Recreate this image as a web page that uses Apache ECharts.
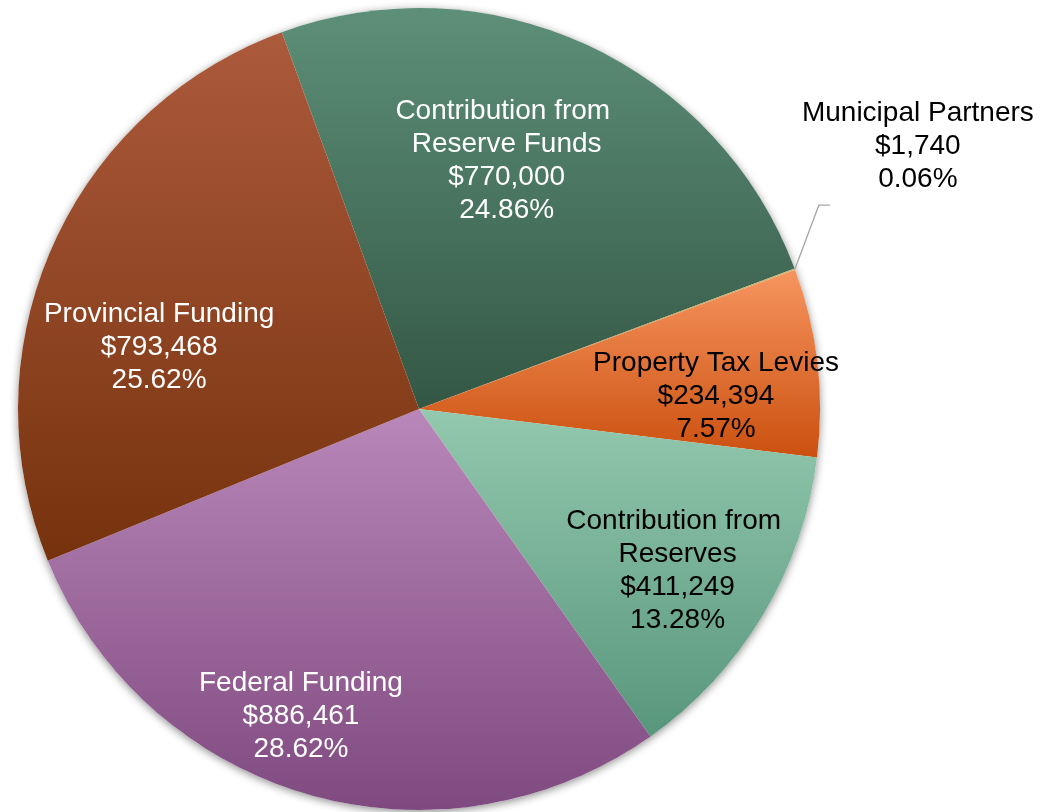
<!DOCTYPE html>
<html>
<head>
<meta charset="utf-8">
<title>Funding Sources</title>
<script src="https://cdn.jsdelivr.net/npm/echarts@6/dist/echarts.min.js"></script>
<style>
  html, body { margin: 0; padding: 0; background: #ffffff; }
  #chart { width: 1046px; height: 812px; }
</style>
</head>
<body>
<div id="chart"></div>
<script>
// Funding sources, in slice order (clockwise)
const categories = [
  'Contribution from Reserve Funds',
  'Municipal Partners',
  'Property Tax Levies',
  'Contribution from Reserves',
  'Federal Funding',
  'Provincial Funding'
];
const amounts = [770000, 1740, 234394, 411249, 886461, 793468];

const total = amounts.reduce((a, b) => a + b, 0);

// Geometry and type
const CX = 419, CY = 409, R = 401;
const START = 110;
const FONT = "'Liberation Sans', Arial, Helvetica, sans-serif";

// Vertical gradient per slice: [top, bottom]
const fills = {
  'Contribution from Reserve Funds': ['#5d8f79', '#335744'],
  'Municipal Partners': ['#c9b56c', '#9f873c'],
  'Property Tax Levies': ['#f6955f', '#cb500f'],
  'Contribution from Reserves': ['#93c9ae', '#58967c'],
  'Federal Funding': ['#b987ba', '#7f4a7f'],
  'Provincial Funding': ['#ac5a3c', '#76320d']
};
const ink = {
  'Contribution from Reserve Funds': '#ffffff',
  'Municipal Partners': '#000000',
  'Property Tax Levies': '#000000',
  'Contribution from Reserves': '#000000',
  'Federal Funding': '#ffffff',
  'Provincial Funding': '#ffffff'
};
// Fine shift of each inside label from its default anchor [dx, dy]
const nudge = {
  'Contribution from Reserve Funds': [-35, 18],
  'Property Tax Levies': [6, 21],
  'Contribution from Reserves': [7, 12],
  'Federal Funding': [-36, 26],
  'Provincial Funding': [8, 57]
};

function money(v) {
  return '$' + v.toLocaleString('en-US');
}
function pct(v) {
  return (v / total * 100).toFixed(2) + '%';
}
function gradient(name) {
  const c = fills[name];
  return new echarts.graphic.LinearGradient(0, 0, 0, 1, [
    { offset: 0, color: c[0] },
    { offset: 1, color: c[1] }
  ]);
}

const sliceData = categories.map((name, i) => ({
  name: name,
  value: amounts[i],
  itemStyle: { color: gradient(name) }
}));

const labelData = categories.map((name, i) => {
  const item = {
    name: name,
    value: amounts[i],
    label: { color: ink[name] }
  };
  if (name === 'Municipal Partners') {
    item.label.position = 'outside';
    item.labelLine = { show: true, length: 20, length2: 10 };
  }
  return item;
});

const chart = echarts.init(document.getElementById('chart'), null, { renderer: 'canvas' });

chart.setOption({
  backgroundColor: '#ffffff',
  animation: false,
  series: [
    // soft drop shadow under the whole disc
    {
      type: 'pie',
      z: 1,
      silent: true,
      center: [CX, CY],
      radius: R,
      startAngle: START,
      label: { show: false },
      labelLine: { show: false },
      itemStyle: {
        color: '#ffffff',
        shadowBlur: 8,
        shadowColor: 'rgba(0,0,0,0.45)',
        shadowOffsetY: 2
      },
      data: [{ name: 'disc', value: total }]
    },
    // the slices
    {
      type: 'pie',
      z: 2,
      silent: true,
      center: [CX, CY],
      radius: R,
      startAngle: START,
      clockwise: true,
      avoidLabelOverlap: false,
      label: { show: false },
      labelLine: { show: false },
      itemStyle: { borderWidth: 0 },
      data: sliceData
    },
    // labels, placed on a ring so the inside text sits about 0.72 R out
    {
      type: 'pie',
      z: 3,
      silent: true,
      center: [CX, CY],
      radius: [179, R],
      startAngle: START,
      clockwise: true,
      avoidLabelOverlap: false,
      itemStyle: { color: 'rgba(0,0,0,0)' },
      label: {
        show: true,
        position: 'inside',
        fontFamily: FONT,
        fontSize: 28,
        lineHeight: 33,
        width: 260,
        overflow: 'break',
        align: 'center',
        formatter: p => p.name + '\n' + money(p.value) + '\n' + pct(p.value)
      },
      labelLine: {
        show: false,
        lineStyle: { color: '#a6a6a6', width: 1.3 }
      },
      labelLayout: function (p) {
        const name = categories[p.dataIndex];
        const box = p.labelRect;
        if (name === 'Municipal Partners') {
          if (!p.labelLinePoints) return {};
          const s = p.labelLinePoints[0];
          return {
            x: s[0] + 123,
            y: s[1] - 123,
            align: 'center',
            verticalAlign: 'middle',
            labelLinePoints: [s, [s[0] + 24, s[1] - 64], [s[0] + 35, s[1] - 64]]
          };
        }
        const d = nudge[name] || [0, 0];
        return {
          x: box.x + box.width / 2 + d[0],
          y: box.y + box.height / 2 + d[1],
          align: 'center',
          verticalAlign: 'middle'
        };
      },
      data: labelData
    }
  ]
});
</script>
</body>
</html>
